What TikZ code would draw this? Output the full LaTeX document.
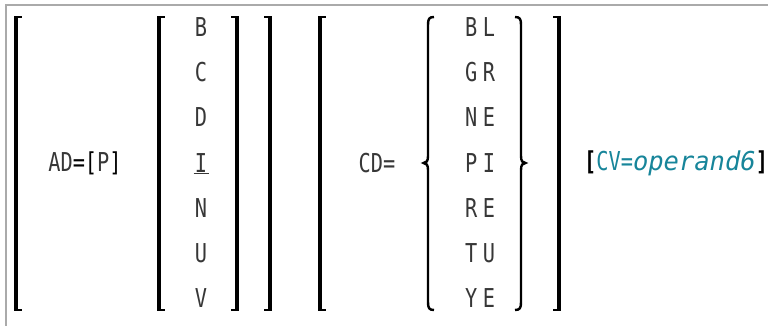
\documentclass[tikz,border=0pt]{standalone}
\usepackage{fontspec}
\setmonofont{DejaVu Sans Mono}[FakeStretch=0.78]
\newfontfamily\opfont{DejaVu Sans Mono}[FakeStretch=0.98]
\definecolor{cvblue}{RGB}{23,133,154}
\definecolor{framegray}{RGB}{170,170,170}
\definecolor{txtcol}{RGB}{55,55,55}
\tikzset{
  txt/.style={font=\ttfamily\fontsize{26}{30}\selectfont, text=txtcol, inner sep=0pt, anchor=center},
  lbrk/.pic={\fill (-2,16) rectangle (2,311); \fill (-2,16) rectangle (6,18.5); \fill (-2,308.5) rectangle (6,311);},
  rbrk/.pic={\fill (-2,16) rectangle (2,311); \fill (-6,16) rectangle (2,18.5); \fill (-6,308.5) rectangle (2,311);},
  brc/.style={line width=2.4pt}
}
\newcommand{\lsp}{\kern5.5pt}
\begin{document}
\begin{tikzpicture}[x=1pt,y=-1pt]
\useasboundingbox (0,0) rectangle (768,326);
\draw[framegray, line width=2pt] (5.5,326) -- (5.5,5.5) -- (768,5.5);
% brackets
\pic at (16,0) {lbrk};
\pic at (159,0) {lbrk};
\pic at (236.5,0) {rbrk};
\pic at (270,0) {rbrk};
\pic at (320,0) {lbrk};
\pic at (559,0) {rbrk};
% braces
\draw[brc] (434,17) .. controls (429,17) and (428,19) .. (428,25) -- (428,156) .. controls (428,161) and (426.5,163) .. (423.5,163) .. controls (426.5,163) and (428,165) .. (428,170) -- (428,302) .. controls (428,308) and (429,310) .. (434,310);
\draw[brc] (515,17) .. controls (520,17) and (521,19) .. (521,25) -- (521,156) .. controls (521,161) and (522.5,163) .. (525.5,163) .. controls (522.5,163) and (521,165) .. (521,170) -- (521,302) .. controls (521,308) and (520,310) .. (515,310);
% texts
\node[txt] (ad) at (85,163) {AD{\color{black}=[}P{\color{black}]}};
\node[txt] (b) at (201,27) {B};
\node[txt] (c) at (201,72.2) {C};
\node[txt] (d) at (201,117.4) {D};
\node[txt] (i) at (201,162.6) {I};
\draw[txtcol, line width=1.3pt] (193.5,173.5) -- (208.5,173.5);
\node[txt] (n) at (201,207.8) {N};
\node[txt] (u) at (201,253) {U};
\node[txt] (v) at (201,298.2) {V};
\node[txt] (cd) at (377,163) {CD=};
\node[txt] (bl) at (480,27) {B\lsp L};
\node[txt] (gr) at (480,72.2) {G\lsp R};
\node[txt] (ne) at (480,117.4) {N\lsp E};
\node[txt] (pi) at (480,162.6) {P\lsp I};
\node[txt] (re) at (480,207.8) {R\lsp E};
\node[txt] (tu) at (480,253) {T\lsp U};
\node[txt] (ye) at (480,298.2) {Y\lsp E};
\node[txt, anchor=west, text=black] (cv) at (584,163) {{\bfseries[}\textcolor{cvblue}{CV=\opfont\itshape operand6}{\bfseries]}};
\end{tikzpicture}
\end{document}
